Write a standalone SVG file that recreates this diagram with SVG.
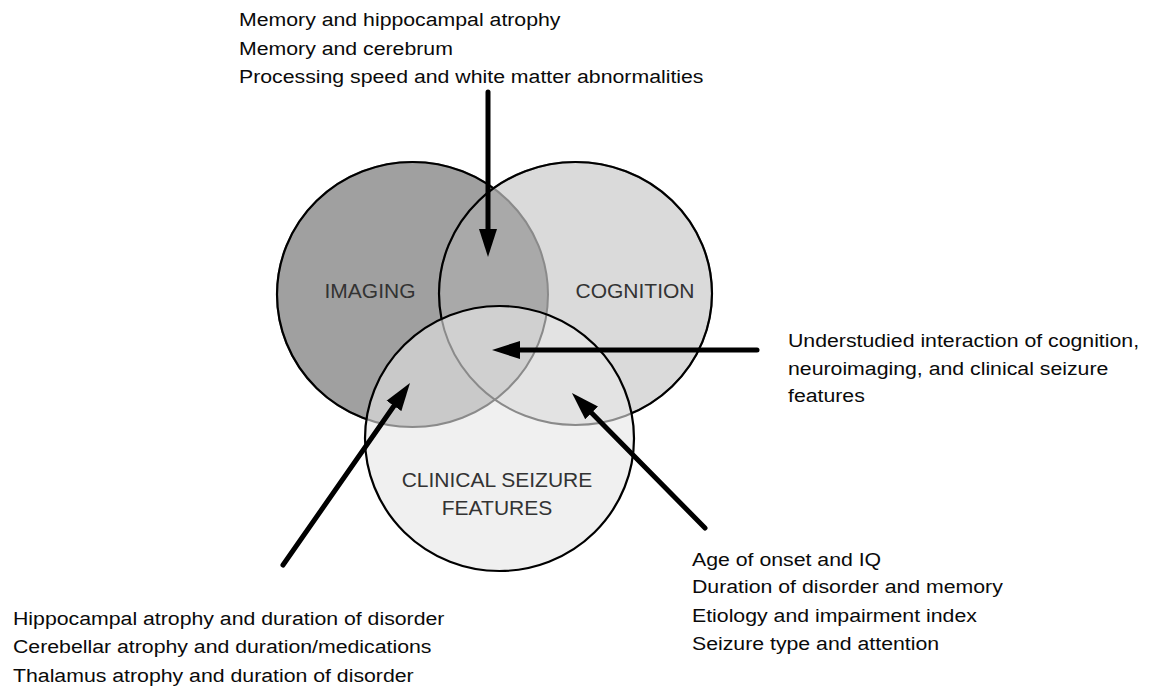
<svg xmlns="http://www.w3.org/2000/svg" width="1154" height="689" viewBox="0 0 1154 689">
<style>
.lbl{font-family:"Liberation Sans",Arial,sans-serif;font-size:19px;fill:#0a0a0a}
.set{font-family:"Liberation Sans",Arial,sans-serif;font-size:21px;fill:#333;text-anchor:middle}
.blk{fill:none;stroke:#000;stroke-width:2.2}
.gry{fill:none;stroke:#8a8a8a;stroke-width:2}
.arr{stroke:#000;stroke-width:5;stroke-linecap:round;fill:none;marker-end:url(#ah)}
</style>
<defs>
<marker id="ah" markerUnits="userSpaceOnUse" markerWidth="30" markerHeight="20" viewBox="0 0 30 20" refX="2" refY="10" orient="auto">
<path d="M0,1 L28,10 L0,19 Z" fill="#000"/>
</marker>
<clipPath id="cCo"><ellipse cx="575.5" cy="293.5" rx="136.5" ry="131.5"/></clipPath>
<clipPath id="cCl"><ellipse cx="499.5" cy="438.5" rx="134.5" ry="132.5"/></clipPath>
<clipPath id="oCo"><path clip-rule="evenodd" d="M0 0H1154V689H0Z M439 293.5a136.5 131.5 0 1 0 273 0a136.5 131.5 0 1 0 -273 0Z"/></clipPath>
<clipPath id="oCl"><path clip-rule="evenodd" d="M0 0H1154V689H0Z M365 438.5a134.5 132.5 0 1 0 269 0a134.5 132.5 0 1 0 -269 0Z"/></clipPath>
</defs>
<rect width="1154" height="689" fill="#fff"/>
<g id="fills">
<ellipse cx="412.5" cy="294.5" rx="135.5" ry="132.5" fill="#a0a0a0"/>
<ellipse cx="575.5" cy="293.5" rx="136.5" ry="131.5" fill="#dadada"/>
<ellipse cx="499.5" cy="438.5" rx="134.5" ry="132.5" fill="#f0f0f0"/>
<g clip-path="url(#cCo)"><ellipse cx="412.5" cy="294.5" rx="135.5" ry="132.5" fill="#a9a9a9"/></g>
<g clip-path="url(#cCl)"><ellipse cx="412.5" cy="294.5" rx="135.5" ry="132.5" fill="#c9c9c9"/></g>
<g clip-path="url(#cCl)"><ellipse cx="575.5" cy="293.5" rx="136.5" ry="131.5" fill="#e3e3e3"/></g>
<g clip-path="url(#cCl)"><g clip-path="url(#cCo)"><ellipse cx="412.5" cy="294.5" rx="135.5" ry="132.5" fill="#d0d0d0"/></g></g>
</g>
<g id="imaging">
<ellipse class="gry" cx="412.5" cy="294.5" rx="135.5" ry="132.5"/>
<g clip-path="url(#oCo)"><g clip-path="url(#oCl)"><ellipse class="blk" cx="412.5" cy="294.5" rx="135.5" ry="132.5"/></g></g>
<text class="set" x="370" y="298">IMAGING</text>
</g>
<g id="cognition">
<ellipse class="gry" cx="575.5" cy="293.5" rx="136.5" ry="131.5"/>
<g clip-path="url(#oCl)"><ellipse class="blk" cx="575.5" cy="293.5" rx="136.5" ry="131.5"/></g>
<text class="set" x="635" y="298">COGNITION</text>
</g>
<g id="clinical">
<ellipse class="blk" cx="499.5" cy="438.5" rx="134.5" ry="132.5"/>
<text class="set" x="497" y="487">CLINICAL SEIZURE</text>
<text class="set" x="497" y="515">FEATURES</text>
</g>
<g id="connectors">
<line class="arr" x1="488" y1="92" x2="488" y2="231"/>
<line class="arr" x1="757" y1="350" x2="518" y2="350"/>
<line class="arr" x1="283" y1="565" x2="395.1" y2="404.3"/>
<line class="arr" x1="705" y1="528" x2="590.2" y2="411.5"/>
</g>
<g id="note-top">
<text class="lbl" transform="translate(239,0) scale(1.12,1)"><tspan x="0" y="26">Memory and hippocampal atrophy</tspan><tspan x="0" y="55">Memory and cerebrum</tspan><tspan x="0" y="83">Processing speed and white matter abnormalities</tspan></text>
</g>
<g id="note-right">
<text class="lbl" transform="translate(788,0) scale(1.12,1)"><tspan x="0" y="347">Understudied interaction of cognition,</tspan><tspan x="0" y="375">neuroimaging, and clinical seizure</tspan><tspan x="0" y="402">features</tspan></text>
</g>
<g id="note-bottom-left">
<text class="lbl" transform="translate(13,0) scale(1.12,1)"><tspan x="0" y="625">Hippocampal atrophy and duration of disorder</tspan><tspan x="0" y="653">Cerebellar atrophy and duration/medications</tspan><tspan x="0" y="682">Thalamus atrophy and duration of disorder</tspan></text>
</g>
<g id="note-bottom-right">
<text class="lbl" transform="translate(692,0) scale(1.12,1)"><tspan x="0" y="566">Age of onset and IQ</tspan><tspan x="0" y="593">Duration of disorder and memory</tspan><tspan x="0" y="622">Etiology and impairment index</tspan><tspan x="0" y="650">Seizure type and attention</tspan></text>
</g>
</svg>
